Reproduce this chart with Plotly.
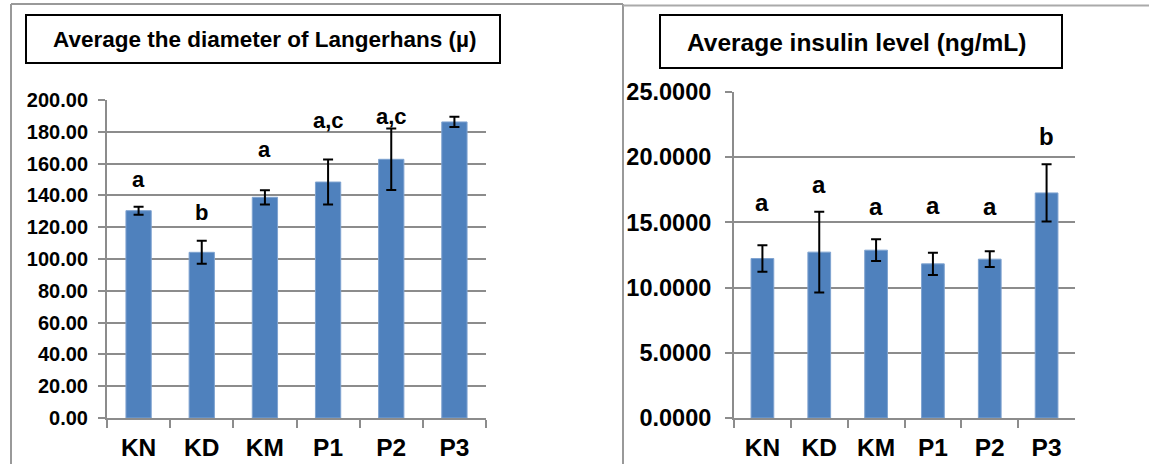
import plotly.graph_objects as go

W, H = 1149, 464

categories = ["KN", "KD", "KM", "P1", "P2", "P3"]

diam_mean = [130.4, 104.2, 138.8, 148.4, 162.7, 186.2]
diam_err = [2.5, 7.2, 4.5, 14.2, 19.3, 3.2]
diam_letters = ["a", "b", "a", "a,c", "a,c", "d"]
diam_letter_y = [150.0, 129.5, 169.0, 187.0, 189.5, 206.5]
diam_ticks = [0, 20, 40, 60, 80, 100, 120, 140, 160, 180, 200]

ins_mean = [12.23, 12.72, 12.87, 11.82, 12.18, 17.26]
ins_err = [1.02, 3.1, 0.83, 0.85, 0.6, 2.2]
ins_letters = ["a", "a", "a", "a", "a", "b"]
ins_letter_y = [16.5, 17.9, 16.2, 16.3, 16.2, 21.6]
ins_ticks = [0, 5, 10, 15, 20, 25]

BAR = "#4F81BD"
GRID = "#8C8C8C"
FONT = "Liberation Sans, Arial, sans-serif"


def px_x(p):
    return p / W


def px_y(p):
    return 1 - p / H


fig = go.Figure()

fig.add_trace(go.Bar(
    x=categories, y=diam_mean, xaxis="x", yaxis="y",
    marker=dict(color=BAR, line=dict(color="#7FA3D0", width=1)),
    width=0.4,
    error_y=dict(type="data", array=diam_err, color="black", thickness=2, width=5),
    showlegend=False, hoverinfo="skip",
))
fig.add_trace(go.Bar(
    x=categories, y=ins_mean, xaxis="x2", yaxis="y2",
    marker=dict(color=BAR, line=dict(color="#7FA3D0", width=1)),
    width=0.4,
    error_y=dict(type="data", array=ins_err, color="black", thickness=2, width=5),
    showlegend=False, hoverinfo="skip",
))

common_x = dict(
    type="category", showgrid=False, showline=True, linecolor=GRID, linewidth=2,
    ticks="outside", tickson="boundaries", ticklen=8, tickcolor=GRID, tickwidth=2,
    ticklabelstandoff=7, zeroline=False, fixedrange=True, automargin=False,
)
common_y = dict(
    showgrid=True, gridcolor=GRID, gridwidth=2, showline=True, linecolor=GRID,
    linewidth=2, ticks="outside", ticklen=7, tickcolor=GRID, tickwidth=2,
    zeroline=False, fixedrange=True, automargin=False,
)

fig.update_layout(
    width=W, height=H, margin=dict(l=0, r=0, t=0, b=0, autoexpand=False),
    paper_bgcolor="white", plot_bgcolor="white",
    bargap=0.6,
    font=dict(family=FONT, color="black"),
    xaxis=dict(domain=[px_x(107), px_x(486)], anchor="y",
               tickfont=dict(family=FONT, size=24.5, weight="bold", color="black"),
               **common_x),
    yaxis=dict(domain=[px_y(418), px_y(100)], anchor="x", range=[0, 200],
               tickvals=diam_ticks, ticktext=[f"{v:.2f}" for v in diam_ticks],
               tickfont=dict(family=FONT, size=20, weight="bold", color="black"),
               ticklabelstandoff=6, **common_y),
    xaxis2=dict(domain=[px_x(734), px_x(1075)], anchor="y2",
                tickfont=dict(family=FONT, size=24.5, weight="bold", color="black"),
                **common_x),
    yaxis2=dict(domain=[px_y(418), px_y(92)], anchor="x2", range=[0, 25],
                tickvals=ins_ticks, ticktext=[f"{v:.4f}" for v in ins_ticks],
                tickfont=dict(family=FONT, size=23.5, weight="bold", color="black"),
                ticklabelstandoff=9, **common_y),
)

annotations = []
for c, t, yv in zip(categories, diam_letters, diam_letter_y):
    annotations.append(dict(x=c, y=yv, xref="x", yref="y", text=t, showarrow=False,
                            yanchor="middle",
                            font=dict(family=FONT, size=22, weight="bold", color="black")))
for c, t, yv in zip(categories, ins_letters, ins_letter_y):
    annotations.append(dict(x=c, y=yv, xref="x2", yref="y2", text=t, showarrow=False,
                            yanchor="middle",
                            font=dict(family=FONT, size=24, weight="bold", color="black")))

annotations.append(dict(x=px_x(264), y=px_y(39), xref="paper", yref="paper",
                        text="Average the diameter of Langerhans (µ)", showarrow=False,
                        xanchor="center", yanchor="middle",
                        font=dict(family=FONT, size=22.5, weight="bold", color="black")))
annotations.append(dict(x=px_x(856), y=px_y(42), xref="paper", yref="paper",
                        text="Average insulin level (ng/mL)", showarrow=False,
                        xanchor="center", yanchor="middle",
                        font=dict(family=FONT, size=24.5, weight="bold", color="black")))
fig.update_layout(annotations=annotations)

shapes = [
    # title boxes
    dict(type="rect", xref="paper", yref="paper", x0=px_x(26), x1=px_x(500),
         y0=px_y(63), y1=px_y(15), line=dict(color="black", width=2)),
    dict(type="rect", xref="paper", yref="paper", x0=px_x(660), x1=px_x(1062),
         y0=px_y(68), y1=px_y(15), line=dict(color="black", width=2)),
    # panel borders
    dict(type="line", xref="paper", yref="paper", x0=px_x(11), x1=px_x(11),
         y0=px_y(4), y1=0, line=dict(color="#999999", width=2)),
    dict(type="line", xref="paper", yref="paper", x0=px_x(11), x1=px_x(623),
         y0=px_y(4), y1=px_y(4), line=dict(color="#999999", width=2)),
    dict(type="line", xref="paper", yref="paper", x0=px_x(623), x1=px_x(623),
         y0=px_y(4), y1=0, line=dict(color="#999999", width=2)),
    dict(type="line", xref="paper", yref="paper", x0=px_x(623), x1=1,
         y0=px_y(5.5), y1=px_y(5.5), line=dict(color="#AAAAAA", width=2)),
]
fig.update_layout(shapes=shapes)

fig.write_html(
    "out.html",
    config={"displayModeBar": False},
    post_script="document.body.style.margin='0';document.body.style.overflow='hidden';",
)
